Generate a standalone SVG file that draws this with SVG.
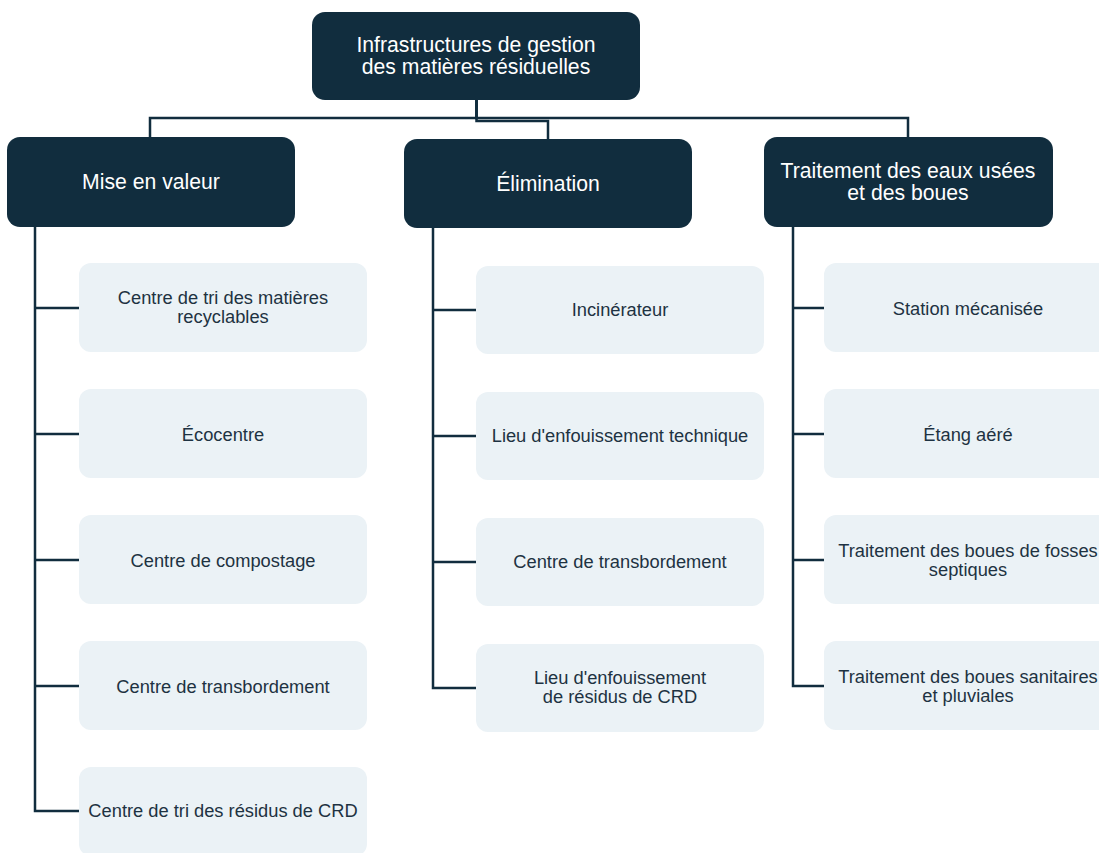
<svg xmlns="http://www.w3.org/2000/svg" width="1099" height="853" viewBox="0 0 1099 853">
<style>
.dark{fill:#112D3E}
.light{fill:#EBF2F6}
.dt{fill:#FFFFFF;font-family:"Liberation Sans",Arial,sans-serif;font-size:21.2px;text-anchor:middle}
.lt{fill:#1E3242;font-family:"Liberation Sans",Arial,sans-serif;font-size:18.3px;text-anchor:middle}
.ln{fill:none;stroke:#112D3E;stroke-width:2.5}
</style>
<rect width="1099" height="853" fill="#FFFFFF"/>
<g id="connectors">
<path class="ln" d="M476.5,100 V118 H150 V137"/>
<path class="ln" d="M476.5,100 V118 H908 V137"/>
<path class="ln" d="M476.5,100 V121 H548 V139"/>
<path class="ln" d="M35,227 V811 H79"/>
<path class="ln" d="M35,308 H79 M35,434 H79 M35,560 H79 M35,686 H79"/>
<path class="ln" d="M433,228 V688 H476"/>
<path class="ln" d="M433,310 H476 M433,436 H476 M433,562 H476"/>
<path class="ln" d="M793,227 V686 H824"/>
<path class="ln" d="M793,308 H824 M793,434 H824 M793,560 H824"/>
</g>
<g id="root"><rect class="dark" x="312" y="12" width="328" height="88" rx="13"/><text class="dt"><tspan x="476" y="52">Infrastructures de gestion</tspan><tspan x="476" y="73.5">des matières résiduelles</tspan></text></g>
<g id="mise"><rect class="dark" x="7" y="137" width="288" height="90" rx="13"/><text class="dt" x="151" y="189">Mise en valeur</text></g>
<g id="elim"><rect class="dark" x="404" y="139" width="288" height="89" rx="13"/><text class="dt" x="548" y="191">Élimination</text></g>
<g id="trait"><rect class="dark" x="764" y="137" width="289" height="90" rx="13"/><text class="dt"><tspan x="908" y="178">Traitement des eaux usées</tspan><tspan x="908" y="199.5">et des boues</tspan></text></g>

<g id="m1"><rect class="light" x="79" y="263" width="288" height="89" rx="12"/><text class="lt"><tspan x="223" y="303.5">Centre de tri des matières</tspan><tspan x="223" y="322.5">recyclables</tspan></text></g>
<g id="m2"><rect class="light" x="79" y="389" width="288" height="89" rx="12"/><text class="lt" x="223" y="440.5">Écocentre</text></g>
<g id="m3"><rect class="light" x="79" y="515" width="288" height="89" rx="12"/><text class="lt" x="223" y="566.5">Centre de compostage</text></g>
<g id="m4"><rect class="light" x="79" y="641" width="288" height="89" rx="12"/><text class="lt" x="223" y="692.5">Centre de transbordement</text></g>
<g id="m5"><rect class="light" x="79" y="767" width="288" height="89" rx="12"/><text class="lt" x="223" y="817">Centre de tri des résidus de CRD</text></g>

<g id="e1"><rect class="light" x="476" y="266" width="288" height="88" rx="12"/><text class="lt" x="620" y="316">Incinérateur</text></g>
<g id="e2"><rect class="light" x="476" y="392" width="288" height="88" rx="12"/><text class="lt" x="620" y="442">Lieu d'enfouissement technique</text></g>
<g id="e3"><rect class="light" x="476" y="518" width="288" height="88" rx="12"/><text class="lt" x="620" y="568">Centre de transbordement</text></g>
<g id="e4"><rect class="light" x="476" y="644" width="288" height="88" rx="12"/><text class="lt"><tspan x="620" y="684">Lieu d'enfouissement</tspan><tspan x="620" y="703">de résidus de CRD</tspan></text></g>

<g id="t1"><rect class="light" x="824" y="263" width="288" height="89" rx="12"/><text class="lt" x="968" y="314.5">Station mécanisée</text></g>
<g id="t2"><rect class="light" x="824" y="389" width="288" height="89" rx="12"/><text class="lt" x="968" y="440.5">Étang aéré</text></g>
<g id="t3"><rect class="light" x="824" y="515" width="288" height="89" rx="12"/><text class="lt"><tspan x="968" y="556.5">Traitement des boues de fosses</tspan><tspan x="968" y="575.5">septiques</tspan></text></g>
<g id="t4"><rect class="light" x="824" y="641" width="288" height="89" rx="12"/><text class="lt"><tspan x="968" y="682.5">Traitement des boues sanitaires</tspan><tspan x="968" y="701.5">et pluviales</tspan></text></g>
</svg>
